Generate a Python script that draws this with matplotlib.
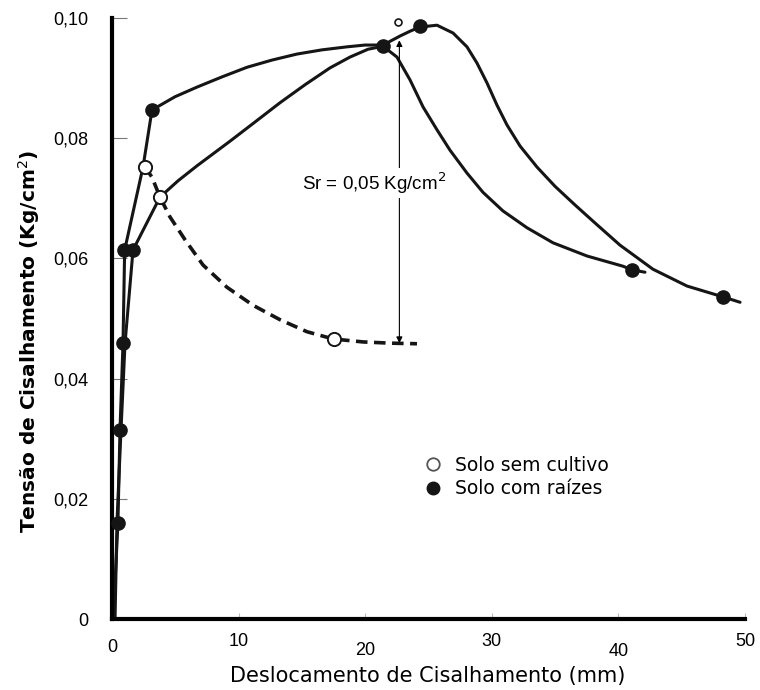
import matplotlib
matplotlib.use("Agg")
import matplotlib.pyplot as plt
import matplotlib.transforms as mtransforms
from matplotlib.lines import Line2D

# curve 1 (com raizes): rises steeply, peaks near 24.5 mm, falls to ~50 mm
curva1_x = [0.1, 0.47, 0.63, 0.87, 1.0, 2.45, 3.16, 4.98, 6.71, 8.69, 10.66, 12.64,
            14.61, 16.59, 18.56, 19.98, 21.41, 22.75, 23.54, 24.33, 25.67, 26.94,
            28.04, 28.83, 29.62, 30.41, 31.2, 32.23, 33.57, 34.99, 36.57, 38.15,
            40.13, 42.73, 45.42, 48.26, 49.61]
curva1_y = [0.0, 0.016, 0.0314, 0.0459, 0.0614, 0.0752, 0.0847, 0.0869, 0.0885,
            0.0902, 0.0918, 0.093, 0.094, 0.0947, 0.0952, 0.0955, 0.0955, 0.097,
            0.0978, 0.0985, 0.0988, 0.0975, 0.0952, 0.0925, 0.0892, 0.0855, 0.0822,
            0.0787, 0.0752, 0.072, 0.0689, 0.0659, 0.0622, 0.0582, 0.0554, 0.0536,
            0.0527]

# curve 2 (com raizes): lower branch, sharp peak ~21.4 mm, falls to ~42 mm
curva2_x = [0.24, 0.39, 0.71, 1.03, 1.66, 3.79, 5.21, 6.71, 9.32, 11.3, 13.27, 15.25,
            17.22, 18.8, 20.22, 21.41, 22.51, 23.54, 24.57, 25.67, 26.7, 28.04, 29.3,
            30.88, 32.78, 34.83, 37.52, 40.36, 41.07, 42.1]
curva2_y = [0.0, 0.016, 0.0314, 0.0459, 0.0614, 0.0702, 0.0729, 0.0754, 0.0795,
            0.0827, 0.0859, 0.0889, 0.0917, 0.0935, 0.0948, 0.0953, 0.0935, 0.0897,
            0.0852, 0.0814, 0.078, 0.0742, 0.071, 0.0679, 0.0651, 0.0626, 0.0604,
            0.0587, 0.0581, 0.0577]

# solo sem cultivo (dashed residual branch)
tracejada_x = [2.61, 3.16, 3.79, 4.58, 5.77, 7.19, 9.08, 11.14, 13.27, 15.4, 17.46,
               19.83, 21.96, 24.09]
tracejada_y = [0.0752, 0.0735, 0.0702, 0.0669, 0.0631, 0.0589, 0.0552, 0.0522, 0.0498,
               0.0478, 0.0466, 0.0461, 0.0459, 0.0458]

# measured points
raizes_x = [0.47, 0.63, 0.87, 0.95, 1.66, 3.16, 21.41, 24.33, 41.07, 48.26]
raizes_y = [0.016, 0.0314, 0.0459, 0.0614, 0.0614, 0.0847, 0.0954, 0.0986, 0.0581, 0.0535]
sem_cultivo_x = [2.61, 3.79, 17.54]
sem_cultivo_y = [0.0752, 0.0702, 0.0466]
pico_x = [22.6]
pico_y = [0.0993]

# Sr arrow
sr_x = 22.7
sr_topo = 0.0963
sr_base = 0.0459

xticks = [0, 10, 20, 30, 40, 50]
yticks = [0, 0.02, 0.04, 0.06, 0.08, 0.10]
ytick_labels = ["0", "0,02", "0,04", "0,06", "0,08", "0,10"]
xlabel_offsets = [2, -4, 5, -4, 6, -4]  # scanned labels are not on one line

fig = plt.figure(figsize=(7.6, 6.9), dpi=100)
ax = fig.add_axes([112 / 760, 71 / 690, 633 / 760, 601 / 690])

cor = "#151515"
ax.plot(curva1_x, curva1_y, color=cor, lw=2.2, solid_capstyle="round",
        solid_joinstyle="round", zorder=2)
ax.plot(curva2_x, curva2_y, color=cor, lw=2.2, solid_capstyle="round",
        solid_joinstyle="round", zorder=2)
ax.plot(tracejada_x, tracejada_y, color=cor, lw=2.6, linestyle=(0, (3.2, 1.8)), zorder=2)

ax.plot(raizes_x, raizes_y, "o", ms=9.5, color=cor, mec=cor, zorder=4, clip_on=False)
ax.plot(sem_cultivo_x, sem_cultivo_y, "o", ms=9.5, mfc="white", mec=cor, mew=1.4,
        zorder=4, clip_on=False)
ax.plot(pico_x, pico_y, "o", ms=5, mfc="white", mec=cor, mew=1.2, zorder=4, clip_on=False)

ax.annotate("", xy=(sr_x, sr_base), xytext=(sr_x, sr_topo),
            arrowprops=dict(arrowstyle="<|-|>", lw=0.8, color="black",
                            mutation_scale=9, shrinkA=0, shrinkB=0), zorder=3)
ax.text(20.7, 0.0725, "Sr = 0,05 Kg/cm$^{2}$", ha="center", va="center",
        fontsize=13.5, family="Liberation Sans",
        bbox=dict(fc="white", ec="none", pad=1.5), zorder=3)

handles = [
    Line2D([], [], ls="none", marker="o", ms=9, mfc="white", mec="#555555", mew=1.3),
    Line2D([], [], ls="none", marker="o", ms=9, color=cor),
]
ax.legend(handles, ["Solo sem cultivo", "Solo com raízes"], loc="upper left",
          bbox_to_anchor=(0.492, 0.272), frameon=False, borderpad=0, borderaxespad=0,
          handlelength=1.0, handletextpad=0.67, labelspacing=0.25,
          prop=dict(family="DejaVu Sans", size=13.5))

ax.set_xlim(0, 50)
ax.set_ylim(0, 0.10)
ax.set_xticks(xticks)
ax.set_xticklabels([str(t) for t in xticks])
ax.set_yticks(yticks)
ax.set_yticklabels(ytick_labels)

for side in ["top", "right"]:
    ax.spines[side].set_visible(False)
for side in ["left", "bottom"]:
    ax.spines[side].set_linewidth(3)
    ax.spines[side].set_color("black")

ax.tick_params(axis="y", direction="in", length=11, width=0.8, color="#777777",
               pad=17, labelsize=13)
ax.tick_params(axis="x", direction="in", length=4, width=0.8, color="#bbbbbb",
               pad=13, labelsize=13)
for lab in ax.get_xticklabels() + ax.get_yticklabels():
    lab.set_family("Liberation Sans")
for lab, dy in zip(ax.get_xticklabels(), xlabel_offsets):
    lab.set_transform(lab.get_transform() +
                      mtransforms.ScaledTranslation(0, -dy / 100, fig.dpi_scale_trans))

ax.set_xlabel("Deslocamento de Cisalhamento (mm)", family="DejaVu Sans", fontsize=15)
ax.xaxis.set_label_coords(0.499, -0.078)
ax.set_ylabel("Tensão de Cisalhamento (Kg/cm$^{2}$)", family="DejaVu Sans",
              fontsize=14.5, fontweight="bold")
ax.yaxis.set_label_coords(-0.11, 0.462)

fig.savefig("out.png", dpi=100)
